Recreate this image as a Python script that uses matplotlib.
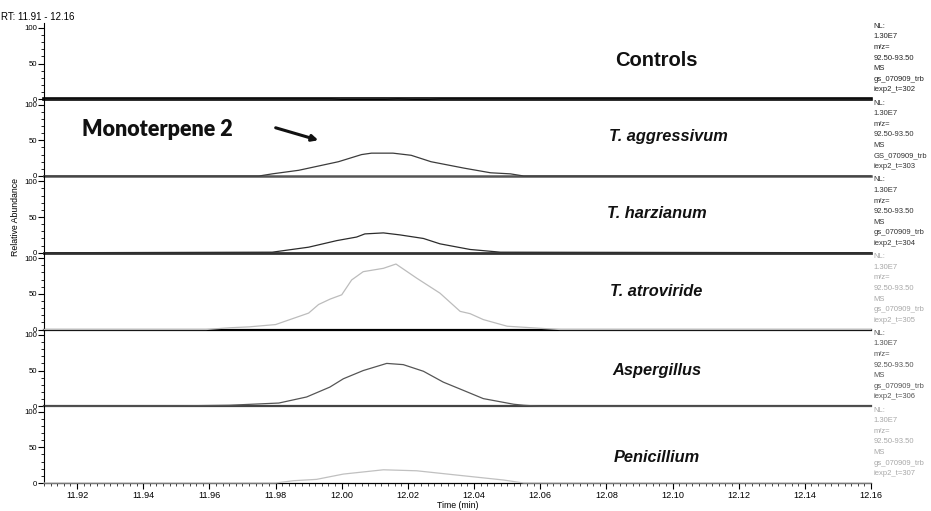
import matplotlib
matplotlib.use('Agg')
import matplotlib.pyplot as plt
from matplotlib.ticker import MultipleLocator, FixedLocator, FormatStrFormatter

plt.rcParams['font.family'] = ['Liberation Sans', 'DejaVu Sans']

# ---------------- data ----------------
samples = ['Controls', 'T. aggressivum', 'T. harzianum', 'T. atroviride', 'Aspergillus', 'Penicillium']
scan_ids = ['302', '303', '304', '305', '306', '307']
file_prefix = ['gs', 'GS', 'gs', 'gs', 'gs', 'gs']

controls_t = [11.91, 11.997, 12.000, 12.013, 12.017, 12.022, 12.026, 12.030, 12.16]
controls_v = [0, 0, 1, 1, 0, 1, 1, 0, 0]

aggressivum_t = [11.91, 11.975, 11.979, 11.987, 11.999, 12.006, 12.009, 12.0155, 12.021, 12.027, 12.037, 12.045, 12.051, 12.055, 12.16]
aggressivum_v = [0, 0, 3, 8, 20, 30, 32, 32, 29, 20, 11, 4.5, 3, 0, 0]

harzianum_t = [11.91, 11.979, 11.990, 11.9985, 12.0045, 12.007, 12.0126, 12.0176, 12.0247, 12.0297, 12.0388, 12.048, 12.16]
harzianum_v = [0, 0.8, 7.8, 17, 22, 26.4, 27.8, 25, 20, 12.5, 4.6, 0.8, 0]

atroviride_t = [11.91, 11.959, 11.966, 11.972, 11.980, 11.990, 11.993, 11.9965, 12.000, 12.003, 12.0065, 12.0126, 12.0164, 12.0227, 12.0297, 12.0358, 12.0388, 12.0428, 12.050, 12.061, 12.066, 12.16]
atroviride_v = [0, 0, 2.4, 3.7, 6.9, 23, 35, 42.6, 48.6, 69.4, 81, 85.7, 91.7, 71.8, 50.9, 25.4, 22.2, 13.9, 4.6, 1.4, 0, 0]

aspergillus_t = [11.91, 11.950, 11.966, 11.981, 11.9894, 11.9964, 12.0005, 12.0065, 12.0136, 12.0186, 12.0247, 12.0307, 12.0368, 12.0428, 12.052, 12.055, 12.06, 12.16]
aspergillus_v = [0, 0.5, 1.4, 4.5, 13, 26.8, 38.5, 50, 60, 58.3, 49, 33.8, 22.2, 10.7, 2.8, 1.4, 0, 0]

penicillium_t = [11.91, 11.980, 11.9854, 11.9924, 12.0005, 12.0126, 12.0227, 12.0348, 12.0489, 12.055, 12.16]
penicillium_v = [0, 0, 3.2, 5.1, 12.5, 18.5, 17.1, 11.1, 4.2, 0, 0]

traces_t = [controls_t, aggressivum_t, harzianum_t, atroviride_t, aspergillus_t, penicillium_t]
traces_v = [controls_v, aggressivum_v, harzianum_v, atroviride_v, aspergillus_v, penicillium_v]

y_ticks = [0, 50, 100]
x_min, x_max = 11.91, 12.16

# ---------------- styles ----------------
trace_colors = ['#222222', '#3c3c3c', '#2c2c2c', '#bcbcbc', '#555555', '#c0c0c0']
info_colors = ['#222222', '#333333', '#333333', '#a8a8a8', '#555555', '#a8a8a8']
base_colors = ['#000000', '#555555', '#333333', '#000000', '#444444', '#000000']
base_widths = [2.6, 1.8, 2.0, 1.6, 1.6, 0.9]
label_y = [0.51, 0.51, 0.505, 0.50, 0.47, 0.33]
label_x = [0.741, 0.755, 0.741, 0.740, 0.741, 0.741]
label_size = [14.5, 11.8, 11.8, 11.8, 11.8, 11.8]

W, H = 931, 511
fig = plt.figure(figsize=(W / 100, H / 100), dpi=100)

ax_left = 44 / W
ax_width = 827 / W
panel_h = 76.75
bottom_px = 483

for i in range(6):
    b = (H - bottom_px + (5 - i) * panel_h) / H
    ax = fig.add_axes([ax_left, b, ax_width, panel_h / H])
    ax.plot(traces_t[i], traces_v[i], color=trace_colors[i], lw=0.9, clip_on=False, zorder=3)
    ax.set_xlim(x_min, x_max)
    ax.set_ylim(0, 107.5)
    for s in ['top', 'right']:
        ax.spines[s].set_visible(False)
    ax.spines['left'].set_linewidth(0.8)
    ax.spines['bottom'].set_linewidth(base_widths[i])
    ax.spines['bottom'].set_color(base_colors[i])
    ax.spines['bottom'].set_zorder(2)
    ax.yaxis.set_major_locator(FixedLocator(y_ticks))
    ax.yaxis.set_minor_locator(MultipleLocator(10))
    ax.tick_params(axis='y', which='major', length=4, width=0.8, pad=1, labelsize=5.6)
    ax.tick_params(axis='y', which='minor', length=2, width=0.6)
    ax.patch.set_alpha(0)

    style = 'normal' if i == 0 else 'italic'
    ax.text(label_x[i], label_y[i], samples[i], transform=ax.transAxes,
            ha='center', va='center', fontsize=label_size[i], fontweight='bold',
            fontstyle=style, color='#111111')

    info = ('NL:\n1.30E7\nm/z=\n92.50-93.50\nMS\n'
            f'{file_prefix[i]}_070909_trb\niexp2_t={scan_ids[i]}')
    ax.text(1.003, 0.995, info, transform=ax.transAxes, ha='left', va='top',
            fontsize=5.5, linespacing=1.72, color=info_colors[i], clip_on=False)

    if i < 5:
        ax.tick_params(axis='x', which='both', bottom=False, labelbottom=False)
    else:
        ax.xaxis.set_major_locator(MultipleLocator(0.02))
        ax.xaxis.set_minor_locator(MultipleLocator(0.002))
        ax.xaxis.set_major_formatter(FormatStrFormatter('%.2f'))
        ax.tick_params(axis='x', which='major', length=4, width=0.8, pad=2, labelsize=6.6)
        ax.tick_params(axis='x', which='minor', length=2, width=0.5)
        ax.set_xlabel('Time (min)', fontsize=6.3, labelpad=0.5)

fig.text(1 / W, 1 - 17 / H, 'RT: 11.91 - 12.16', ha='left', va='center', fontsize=7)
fig.text(15 / W, 1 - 217 / H, 'Relative Abundance', rotation=90, ha='center', va='center', fontsize=6.3)

fig.text(157 / W, 1 - 130 / H, 'Monoterpene 2', family=['Lato', 'DejaVu Sans'],
         fontweight='heavy', fontsize=15.5, ha='center', va='center', color='#111111')
fig.add_artist(matplotlib.patches.FancyArrowPatch(
    (273 / W, 1 - 127 / H), (321 / W, 1 - 141 / H), transform=fig.transFigure,
    arrowstyle='-|>', mutation_scale=9, lw=2.2, color='#111111'))

fig.savefig('out.png', dpi=100)
